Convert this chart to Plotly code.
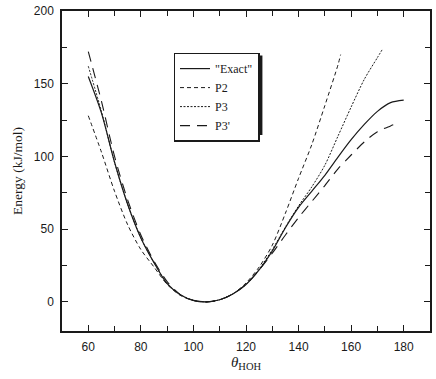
import plotly.graph_objects as go

# ---- data ----
exact_theta = [60, 65, 70, 75, 80, 85, 90, 95, 100, 105, 110, 115, 120, 125, 130,
               135, 140, 145, 150, 155, 160, 165, 170, 175, 180]
exact_E = [155, 130, 96, 67, 44, 27, 12.5, 5, 1, 0, 1.5, 5.5, 12, 22, 35,
           51, 65, 76, 87, 99.5, 111.5, 122, 131, 137, 138.7]

p2_theta = [60, 65, 70, 75, 80, 85, 90, 95, 100, 105, 110, 115, 120, 125, 130,
            135, 140, 145, 150, 155, 156]
p2_E = [128, 103, 76, 53, 36, 24, 12, 4.5, 1, 0, 1.5, 5.5, 13, 24, 39,
        61, 85, 108, 135, 163, 170]

p3_theta = [60, 65, 70, 75, 80, 85, 90, 95, 100, 105, 110, 115, 120, 125, 130,
            135, 140, 145, 150, 155, 160, 165, 170, 172]
p3_E = [162, 131, 96, 67, 44, 27, 12.5, 5, 1, 0, 1.5, 5.5, 12, 22.5, 36,
        51.5, 66, 79, 94, 114, 134, 153, 168, 174]

p3p_theta = [60, 65, 70, 75, 80, 85, 90, 95, 100, 105, 110, 115, 120, 125, 130,
             135, 140, 145, 150, 155, 160, 165, 170, 175, 177.5]
p3p_E = [172, 138, 100, 70, 46, 28, 14, 5, 1, 0, 1.5, 5.5, 12, 22, 33.5,
         46, 58, 69, 80, 91.5, 101, 110, 117, 121, 122.8]

series_names = ['"Exact"', "P2", "P3", "P3'"]
x_ticks = [60, 80, 100, 120, 140, 160, 180]
y_ticks = [0, 50, 100, 150, 200]

ink = "#1a1a1a"
serif = "Liberation Serif, Times New Roman, serif"
sans = "Liberation Sans, Arial, sans-serif"

fig = go.Figure()
styles = [
    (exact_theta, exact_E, "solid", 1.2),
    (p2_theta, p2_E, "4px,3px", 1.0),
    (p3_theta, p3_E, "2px,1.5px", 1.0),
    (p3p_theta, p3p_E, "10px,7px", 1.1),
]
for (xs, ys, dash, w), name in zip(styles, series_names):
    fig.add_trace(go.Scatter(
        x=xs, y=ys, mode="lines", name=name,
        line=dict(color=ink, width=w, dash=dash, shape="spline", smoothing=0.8),
    ))

axis_common = dict(
    showgrid=False, zeroline=False, showline=True, linecolor=ink, linewidth=1.5,
    mirror="allticks", ticks="inside", ticklen=6, tickwidth=1, tickcolor=ink,
    tickfont=dict(family=sans, size=12, color=ink),
)

fig.update_xaxes(
    range=[50, 190], tickmode="array", tickvals=x_ticks, ticklabelstandoff=4,
    minor=dict(dtick=10, tick0=50, ticks="inside", ticklen=5, tickwidth=1, tickcolor=ink),
    title=dict(text="<i>θ</i><sub>HOH</sub>", font=dict(family=serif, size=15, color=ink),
               standoff=3),
    **axis_common,
)
fig.update_yaxes(
    range=[-20, 200], tickmode="array", tickvals=y_ticks, ticklabelstandoff=4,
    minor=dict(dtick=25, tick0=0, ticks="inside", ticklen=5, tickwidth=1, tickcolor=ink),
    title=dict(text="Energy (kJ/mol)", font=dict(family=serif, size=13.5, color=ink),
               standoff=8),
    **axis_common,
)

# legend drop shadow
fig.add_shape(type="rect", xref="paper", yref="paper",
              x0=0.3111, x1=0.5446, y0=0.6125, y1=0.8606,
              fillcolor=ink, line=dict(width=0), layer="below")

fig.update_layout(
    width=436, height=379,
    margin=dict(l=62, r=4, t=11, b=48),
    paper_bgcolor="white", plot_bgcolor="white",
    legend=dict(x=0.303, y=0.87, xanchor="left", yanchor="top",
                bgcolor="white", bordercolor=ink, borderwidth=1.5,
                font=dict(family=serif, size=12, color=ink),
                itemwidth=30, tracegroupgap=0),
    showlegend=True,
)

fig.write_html("out.html")
